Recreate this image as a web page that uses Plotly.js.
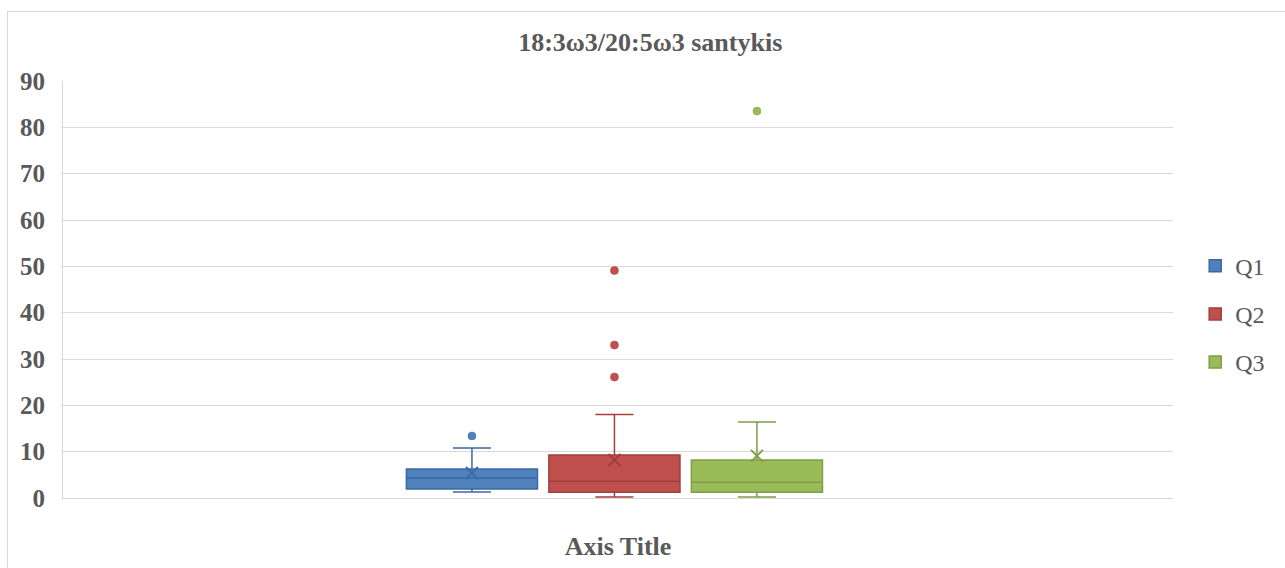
<!DOCTYPE html>
<html>
<head>
<meta charset="utf-8">
<script src="https://cdn.plot.ly/plotly-3.0.1.min.js"></script>
<style>
  html, body { margin: 0; padding: 0; background: #ffffff; overflow: hidden; }
  #frame {
    position: absolute; left: 7px; top: 11px;
    width: 1300px; height: 600px;
    border: 1px solid #d9d9d9; overflow: hidden;
  }
  #chart { position: absolute; left: -8px; top: -12px; width: 1285px; height: 568px; }
</style>
</head>
<body>
<div id="frame"><div id="chart"></div></div>
<script>
// Series summary statistics for the 18:3ω3/20:5ω3 ratio
const seriesNames = ['Q1', 'Q2', 'Q3'];
const lowerWhisker = [1.3, 0.2, 0.2];
const q1Values = [1.94, 1.23, 1.23];
const medianValues = [4.3, 3.6, 3.4];
const q3Values = [6.26, 9.28, 8.2];
const upperWhisker = [10.8, 18.0, 16.4];
const meanValues = [5.4, 8.2, 9.1];
const outliersQ1 = [13.4];
const outliersQ2 = [49.1, 33.0, 26.1];
const outliersQ3 = [83.5];
const outlierSets = [outliersQ1, outliersQ2, outliersQ3];

const fillColors = ['#4F81BD', '#C0504D', '#9BBB59'];
const lineColors = ['#3B6AA3', '#A23E3B', '#7F9E45'];
const textColor = '#595959';
const serif = 'Liberation Serif, Times New Roman, serif';

const traces = [];
seriesNames.forEach((name, i) => {
  traces.push({
    type: 'box',
    name: name,
    x: [name],
    lowerfence: [lowerWhisker[i]],
    q1: [q1Values[i]],
    median: [medianValues[i]],
    q3: [q3Values[i]],
    upperfence: [upperWhisker[i]],
    boxpoints: false,
    width: 0.92,
    whiskerwidth: 0.29,
    fillcolor: fillColors[i],
    line: { color: lineColors[i], width: 1.5 },
    legendgroup: name,
    hoverinfo: 'skip'
  });
  // mean marker
  traces.push({
    type: 'scatter', mode: 'markers',
    x: [name], y: [meanValues[i]],
    marker: { symbol: 'x-thin-open', size: 12, color: lineColors[i], line: { color: lineColors[i], width: 2 } },
    showlegend: false, legendgroup: name, hoverinfo: 'skip'
  });
  // outliers
  traces.push({
    type: 'scatter', mode: 'markers',
    x: outlierSets[i].map(() => name), y: outlierSets[i],
    marker: { symbol: 'circle', size: 8, color: fillColors[i], line: { color: lineColors[i], width: 0.5 } },
    showlegend: false, legendgroup: name, hoverinfo: 'skip'
  });
});

const layout = {
  width: 1285, height: 568,
  margin: { l: 63, r: 112, t: 81, b: 70, autoexpand: false },
  paper_bgcolor: 'rgba(0,0,0,0)',
  plot_bgcolor: '#ffffff',
  showlegend: true,
  title: {
    text: '18:3ω3/20:5ω3 santykis',
    font: { family: serif, size: 26, color: textColor, weight: 'bold' },
    x: 0.506, xanchor: 'center', y: 0.926, yanchor: 'middle'
  },
  xaxis: {
    type: 'category',
    categoryorder: 'array', categoryarray: seriesNames,
    range: [-2.87, 4.92],
    showticklabels: false, ticks: '',
    showgrid: false, zeroline: false,
    showline: true, linecolor: '#d9d9d9', linewidth: 1,
    title: { text: 'Axis Title', standoff: 38,
             font: { family: serif, size: 26, color: textColor, weight: 'bold' } }
  },
  yaxis: {
    range: [0, 90], dtick: 10, tick0: 0,
    showgrid: true, gridcolor: '#d9d9d9', gridwidth: 1,
    zeroline: false,
    showline: true, linecolor: '#d9d9d9', linewidth: 1,
    ticks: '', ticklabelstandoff: 12,
    tickfont: { family: serif, size: 25, color: textColor, weight: 'bold' }
  },
  legend: {
    x: 1.020, xanchor: 'left', y: 0.441, yanchor: 'middle',
    font: { family: serif, size: 24, color: textColor },
    tracegroupgap: 14,
    bgcolor: 'rgba(0,0,0,0)'
  }
};

Plotly.newPlot('chart', traces, layout, { displayModeBar: false, staticPlot: true });
</script>
</body>
</html>
